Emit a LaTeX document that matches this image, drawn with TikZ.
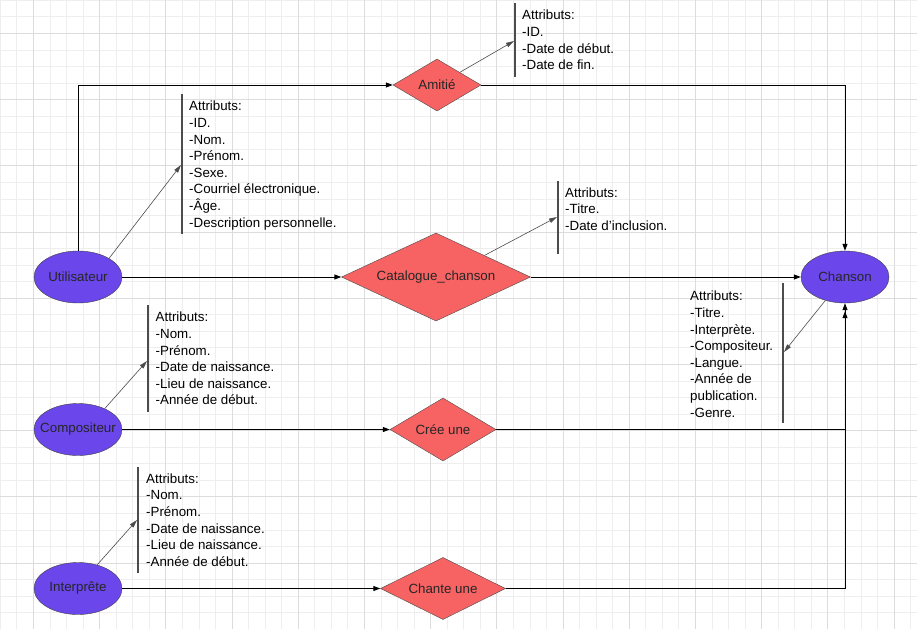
\documentclass[tikz,border=0pt]{standalone}
\usepackage{fontspec}
\setmainfont{Liberation Sans}
\usetikzlibrary{shapes.geometric,arrows.meta}
\definecolor{entite}{RGB}{106,70,235}
\definecolor{relation}{RGB}{247,98,98}
\definecolor{grillefine}{RGB}{238,238,238}
\definecolor{grillefort}{RGB}{220,220,220}
\begin{document}
\begin{tikzpicture}[x=1pt,y=-1pt,
    entity/.style={ellipse,draw=black!75,fill=entite,minimum width=88,minimum height=52,inner xsep=-14pt,inner ysep=0pt,text=black!85,font=\fontsize{13.33}{16}\selectfont},
    relation/.style={diamond,draw=black!70,fill=relation,inner sep=0pt,text=black!85,font=\fontsize{13.33}{16}\selectfont},
    attrs/.style={anchor=north west,align=left,inner sep=0pt,font=\fontsize{13.33}{16.6}\selectfont},
    lien/.style={draw=black,line width=1pt,-{Triangle[length=7pt,width=5pt]}},
    attrlien/.style={draw=black!70,line width=0.6pt,-{Triangle[length=8pt,width=4.5pt]}},
    barre/.style={draw=black!70,line width=2pt}]
    \useasboundingbox (0,0) rectangle (917,629);
    \fill[white] (0,0) rectangle (917,629);
    \foreach \i in {0,...,55} \draw[grillefine,line width=1pt] (0.4+\i*16.55,0) -- (0.4+\i*16.55,629);
    \foreach \j in {0,...,37} \draw[grillefine,line width=1pt] (0,0.4+\j*16.55) -- (917,0.4+\j*16.55);
    \foreach \i in {0,...,13} \draw[grillefort,line width=1pt] (33.5+\i*66.2,0) -- (33.5+\i*66.2,629);
    \foreach \j in {0,...,8} \draw[grillefort,line width=1pt] (0,33.5+\j*66.2) -- (917,33.5+\j*66.2);

    % entites
    \node[entity] (utilisateur) at (78,277) {Utilisateur};
    \node[entity] (compositeur) at (78,429.5) {Compositeur};
    \node[entity] (interprete) at (78,588.5) {Interprête};
    \node[entity] (chanson) at (845,277) {Chanson};

    % associations
    \node[relation,minimum width=88,minimum height=52,aspect=1.69] (amitie) at (437,85) {Amitié};
    \node[relation,minimum width=189,minimum height=88,aspect=2.15] (catalogue) at (436,277) {Catalogue\_chanson};
    \node[relation,minimum width=106,minimum height=63,aspect=1.68] (cree) at (443,429.5) {Crée une};
    \node[relation,minimum width=125,minimum height=62,aspect=2] (chante) at (443,588.5) {Chante une};

    \draw[lien] (utilisateur.north) |- (amitie.west);
    \draw[lien] (amitie.east) -| (chanson.north);
    \draw[lien] (utilisateur) -- (catalogue);
    \draw[lien] (catalogue) -- (chanson);
    \draw[lien] (compositeur) -- (cree);
    \draw[lien] (interprete) -- (chante);
    \draw[lien,shorten >=8pt] (cree.east) -| (chanson.south);
    \draw[lien] (chante.east) -| (chanson.south);

    % attributs
    \node[attrs] (attrUtilisateur) at (189,101) {Attributs:\\-ID.\\-Nom.\\-Prénom.\\-Sexe.\\-Courriel électronique.\\-Âge.\\-Description personnelle.};
    \node[attrs] (attrAmitie) at (522,10) {Attributs:\\-ID.\\-Date de début.\\-Date de fin.};
    \node[attrs] (attrCatalogue) at (565,187.5) {Attributs:\\-Titre.\\-Date d'inclusion.};
    \node[attrs] (attrChanson) at (690,291) {Attributs:\\-Titre.\\-Interprète.\\-Compositeur.\\-Langue.\\-Année de\\publication.\\-Genre.};
    \node[attrs] (attrCompositeur) at (155.5,312) {Attributs:\\-Nom.\\-Prénom.\\-Date de naissance.\\-Lieu de naissance.\\-Année de début.};
    \node[attrs] (attrInterprete) at (146,473.5) {Attributs:\\-Nom.\\-Prénom.\\-Date de naissance.\\-Lieu de naissance.\\-Année de début.};

    \draw[barre] (182,94) -- (182,234);
    \draw[barre] (515,3) -- (515,77);
    \draw[barre] (558,181) -- (558,254);
    \draw[barre] (783,283) -- (783,423);
    \draw[barre] (148,305) -- (148,412);
    \draw[barre] (138,467) -- (138,573);

    \coordinate (ptUtilisateur) at (181,165);
    \coordinate (ptAmitie) at (514,41);
    \coordinate (ptCatalogue) at (557,217);
    \coordinate (ptChanson) at (784,352);
    \coordinate (ptCompositeur) at (147,361);
    \coordinate (ptInterprete) at (137,520);
    \draw[attrlien] (utilisateur.31) -- (ptUtilisateur);
    \draw[attrlien] (amitie.29.5) -- (ptAmitie);
    \draw[attrlien] (catalogue.24) -- (ptCatalogue);
    \draw[attrlien] (chanson.230) -- (ptChanson);
    \draw[attrlien] (compositeur.38) -- (ptCompositeur);
    \draw[attrlien] (interprete.51) -- (ptInterprete);
\end{tikzpicture}
\end{document}
